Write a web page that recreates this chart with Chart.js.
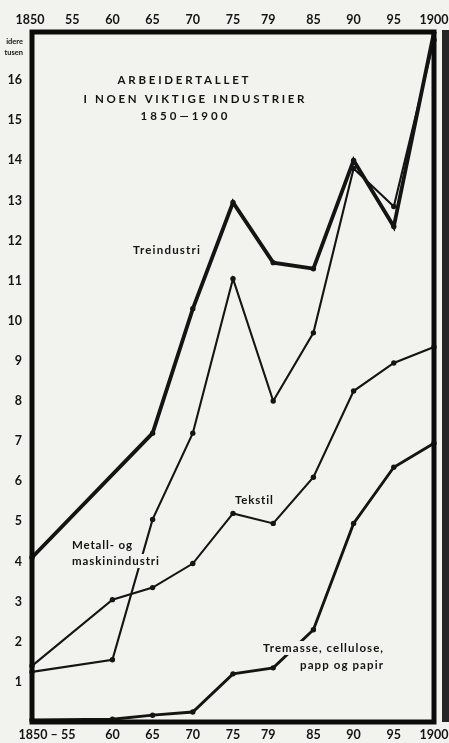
<!DOCTYPE html>
<html>
<head>
<meta charset="utf-8">
<script src="https://cdn.jsdelivr.net/npm/chart.js@4"></script>
<style>
  body { margin: 0; background: #f2f2ef; }
  canvas { display: block; }
</style>
</head>
<body>
<canvas id="chart" width="449" height="743"></canvas>
<script>
const years = ['1850', '55', '60', '65', '70', '75', '79', '85', '90', '95', '1900'];
const bottomLabels = ['1850 – 55', '', '60', '65', '70', '75', '79', '85', '90', '95', '1900'];
const yTicks = [1, 2, 3, 4, 5, 6, 7, 8, 9, 10, 11, 12, 13, 14, 15, 16];

// arbeidere i tusen
const treindustri = [4.1, null, null, 7.2, 10.3, 12.95, 11.45, 11.3, 14.0, 12.35, 17.2];
const metall = [1.25, null, 1.55, 5.05, 7.2, 11.05, 8.0, 9.7, 13.8, 12.85, 17.0];
const tekstil = [1.4, null, 3.05, 3.35, 3.95, 5.2, 4.95, 6.1, 8.25, 8.95, 9.35];
const tremasse = [0.05, null, 0.07, 0.17, 0.25, 1.2, 1.35, 2.3, 4.95, 6.35, 6.95];

const ink = '#141414';
const paper = '#f2f2ef';
const font = 'Lato, "Open Sans", sans-serif';

function series(data, width) {
  return {
    data: data,
    borderColor: ink,
    borderWidth: width,
    pointRadius: 2.7,
    pointBackgroundColor: ink,
    pointBorderWidth: 0,
    spanGaps: true,
    tension: 0
  };
}

// stretch text to a given width with letter spacing
function fitText(ctx, text, x, y, width, align, knockout) {
  ctx.letterSpacing = '0px';
  const w = ctx.measureText(text).width;
  const sp = Math.max(0, (width - w) / (text.length - 1));
  let left = x;
  if (align === 'center') left = x - width / 2;
  if (align === 'right') left = x - width;
  if (knockout) {
    ctx.save();
    ctx.fillStyle = paper;
    ctx.fillRect(left - 2, y - 7, width + 4, 14);
    ctx.restore();
  }
  ctx.letterSpacing = sp + 'px';
  ctx.textAlign = 'left';
  ctx.fillText(text, left, y);
  ctx.letterSpacing = '0px';
}

const framePlugin = {
  id: 'frame',
  beforeDraw(chart) {
    const ctx = chart.ctx;
    ctx.save();
    ctx.fillStyle = paper;
    ctx.fillRect(0, 0, chart.width, chart.height);
    // page edge
    ctx.fillStyle = '#262626';
    ctx.fillRect(442, 30, 7, 692);
    ctx.restore();
  },
  afterDatasetsDraw(chart) {
    const { ctx, chartArea: a } = chart;
    ctx.save();
    ctx.strokeStyle = '#0c0c0c';
    ctx.lineWidth = 5;
    ctx.strokeRect(a.left, a.top, a.right - a.left, a.bottom - a.top);
    ctx.restore();
  },
  afterDraw(chart) {
    const ctx = chart.ctx;
    const x = chart.scales.x;
    ctx.save();
    ctx.fillStyle = ink;
    ctx.textBaseline = 'middle';

    // year labels, top and bottom
    ctx.font = 'bold 12.5px ' + font;
    ctx.textAlign = 'center';
    years.forEach((lab, i) => {
      const off = i === 0 ? -2 : (lab === '79' ? -5 : 0);
      ctx.fillText(lab, x.getPixelForTick(i) + off, 20);
    });
    bottomLabels.forEach((lab, i) => {
      if (!lab) return;
      const off = i === 0 ? 15 : (lab === '79' ? -5 : 0);
      ctx.fillText(lab, x.getPixelForTick(i) + off, 735);
    });

    // unit label
    ctx.font = 'bold 7.5px ' + font;
    ctx.textAlign = 'right';
    ctx.fillText('idere', 23, 42);
    ctx.fillText('tusen', 23, 53);

    // title
    ctx.font = 'bold 11.5px ' + font;
    fitText(ctx, 'ARBEIDERTALLET', 183, 80, 131, 'center');
    fitText(ctx, 'I NOEN VIKTIGE INDUSTRIER', 194, 99, 221, 'center');
    fitText(ctx, '1850—1900', 184, 116, 87, 'center');

    // series labels
    ctx.font = 'bold 11.5px ' + font;
    fitText(ctx, 'Treindustri', 133, 250, 67, 'left');
    fitText(ctx, 'Metall- og', 72, 545, 60, 'left');
    fitText(ctx, 'maskinindustri', 72, 561, 87, 'left', true);
    fitText(ctx, 'Tekstil', 235, 500, 38, 'left');
    fitText(ctx, 'Tremasse, cellulose,', 383, 648, 120, 'right', true);
    fitText(ctx, 'papp og papir', 383, 665, 83, 'right');
    ctx.restore();
  }
};

new Chart(document.getElementById('chart'), {
  type: 'line',
  data: {
    labels: years,
    datasets: [
      series(treindustri, 3.8),
      series(metall, 2.1),
      series(tekstil, 2.1),
      series(tremasse, 2.9)
    ]
  },
  options: {
    responsive: false,
    animation: false,
    layout: { padding: { left: 0, right: 15, top: 0, bottom: 0 } },
    plugins: { legend: { display: false }, tooltip: { enabled: false } },
    scales: {
      x: {
        type: 'category',
        position: 'bottom',
        grid: { display: false, drawTicks: false },
        border: { display: false },
        ticks: { display: false },
        afterFit: s => { s.height = 21; }
      },
      xTop: {
        type: 'category',
        position: 'top',
        labels: years,
        grid: { display: false, drawTicks: false },
        border: { display: false },
        ticks: { display: false },
        afterFit: s => { s.height = 32; }
      },
      y: {
        min: 0,
        max: 17.2,
        grid: { display: false, drawTicks: false },
        border: { display: false },
        afterBuildTicks: s => { s.ticks = yTicks.map(v => ({ value: v })); },
        ticks: {
          color: ink,
          font: { family: font, size: 12.5, weight: 'bold' },
          padding: 10
        },
        afterFit: s => { s.width = 32; }
      }
    }
  },
  plugins: [framePlugin]
});
</script>
</body>
</html>
